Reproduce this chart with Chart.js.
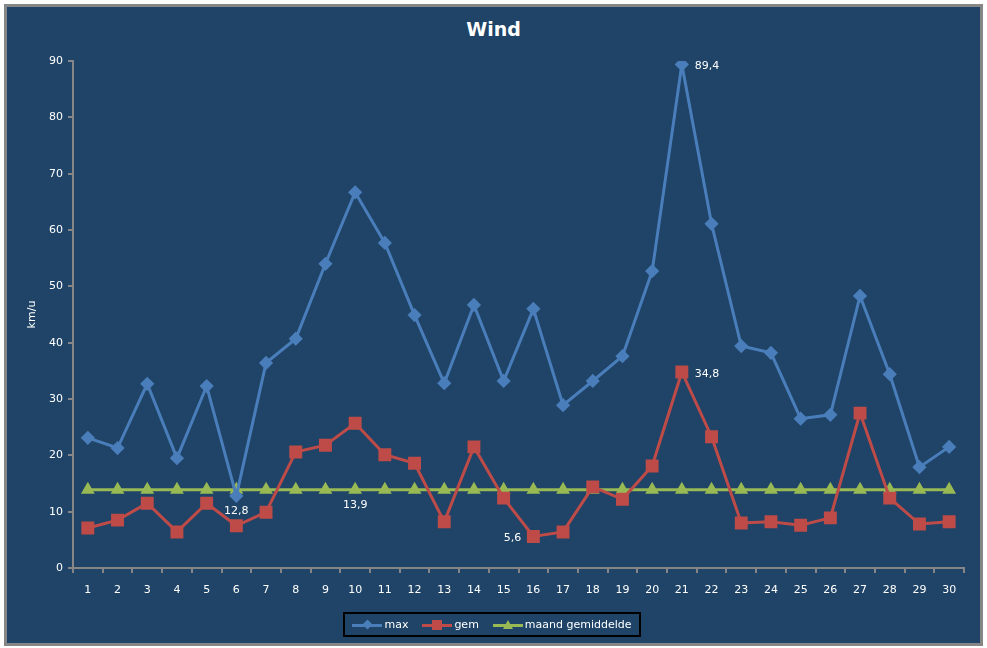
<!DOCTYPE html>
<html>
<head>
<meta charset="utf-8">
<script src="https://cdn.jsdelivr.net/npm/chart.js"></script>
<style>
  body { margin: 0; background: #fff; }
  #wrap { position: relative; width: 987px; height: 648px; overflow: hidden; }
  #frame { position: absolute; left: 4px; top: 4px; width: 973px; height: 636px;
           border: 3px solid #868686; background: #1F4467; }
  #title { position: absolute; left: 0; width: 987px; top: 18px; text-align: center;
           color: #fff; font: bold 19px "DejaVu Sans", sans-serif; }
  canvas { position: absolute; left: 0; top: 0; }
  #legend { position: absolute; left: 343px; top: 612px; width: 298px; height: 25px;
            box-sizing: border-box; border: 2px solid #000; display: flex;
            align-items: center; justify-content: center; color: #fff;
            font: 11px "DejaVu Sans", sans-serif; }
  .item { display: flex; align-items: center; margin: 0 7px; }
  .sym { position: relative; width: 30px; height: 10px; margin-right: 2px; }
  .ln { position: absolute; left: 0; right: 0; top: 4px; height: 3px; }
  .mk { position: absolute; left: 50%; top: 50%; }
</style>
</head>
<body>
<div id="wrap">
  <div id="frame"></div>
  <div id="title">Wind</div>
  <canvas id="myChart" width="987" height="648"></canvas>
  <div id="legend"></div>
</div>

<script>
// Data
const days = ['1','2','3','4','5','6','7','8','9','10','11','12','13','14','15',
              '16','17','18','19','20','21','22','23','24','25','26','27','28','29','30'];
const maxWind = [23.1, 21.3, 32.7, 19.5, 32.3, 12.8, 36.4, 40.7, 54.0, 66.7,
                 57.7, 44.9, 32.8, 46.7, 33.2, 46.0, 28.9, 33.2, 37.6, 52.7,
                 89.4, 61.1, 39.4, 38.2, 26.5, 27.2, 48.3, 34.4, 17.9, 21.5];
const gemWind = [7.1, 8.5, 11.5, 6.4, 11.5, 7.5, 9.9, 20.6, 21.8, 25.7,
                 20.1, 18.6, 8.2, 21.5, 12.4, 5.6, 6.4, 14.4, 12.2, 18.1,
                 34.8, 23.3, 8.0, 8.2, 7.6, 8.9, 27.5, 12.4, 7.8, 8.2];
const maandGem = [13.9, 13.9, 13.9, 13.9, 13.9, 13.9, 13.9, 13.9, 13.9, 13.9,
                  13.9, 13.9, 13.9, 13.9, 13.9, 13.9, 13.9, 13.9, 13.9, 13.9,
                  13.9, 13.9, 13.9, 13.9, 13.9, 13.9, 13.9, 13.9, 13.9, 13.9];
const yTicks = [0, 10, 20, 30, 40, 50, 60, 70, 80, 90];

// which points get a value label: [dataset, index, side]
const valueLabels = [
  [0, 5, 'below'],
  [2, 9, 'below'],
  [1, 15, 'left'],
  [0, 20, 'right'],
  [1, 20, 'right']
];

const FONT = 'DejaVu Sans';
const AXIS = '#868686';

const data = {
  labels: days,
  datasets: [
    { label: 'max', data: maxWind, borderColor: '#4A7EBB', backgroundColor: '#4A7EBB',
      borderWidth: 3, pointStyle: 'rectRot', pointRadius: 5, mk: 'diamond' },
    { label: 'gem', data: gemWind, borderColor: '#BE4B48', backgroundColor: '#BE4B48',
      borderWidth: 3, pointStyle: 'rect', pointRadius: 7, mk: 'square' },
    { label: 'maand gemiddelde', data: maandGem, borderColor: '#98B954', backgroundColor: '#98B954',
      borderWidth: 3, pointStyle: 'triangle', pointRadius: 5, mk: 'triangle' }
  ]
};

// labels next to some points
const labelPlugin = {
  id: 'valueLabels',
  afterDatasetsDraw(chart) {
    const ctx = chart.ctx;
    ctx.save();
    ctx.fillStyle = '#fff';
    ctx.font = '11px ' + FONT;
    ctx.textBaseline = 'middle';
    valueLabels.forEach(([d, i, side]) => {
      const pt = chart.getDatasetMeta(d).data[i];
      const txt = String(chart.data.datasets[d].data[i]).replace('.', ',');
      if (side === 'below') { ctx.textAlign = 'center'; ctx.fillText(txt, pt.x, pt.y + 15); }
      if (side === 'left')  { ctx.textAlign = 'right';  ctx.fillText(txt, pt.x - 12, pt.y + 2); }
      if (side === 'right') { ctx.textAlign = 'left';   ctx.fillText(txt, pt.x + 13, pt.y + 2); }
    });
    ctx.restore();
  }
};

const config = {
  type: 'line',
  data: data,
  options: {
    responsive: false,
    animation: false,
    layout: { padding: { top: 61, right: 23, bottom: 40, left: 0 } },
    elements: { line: { tension: 0 } },
    plugins: { legend: { display: false }, tooltip: { enabled: false } },
    scales: {
      x: {
        offset: true,
        grid: { offset: true, drawOnChartArea: false, drawTicks: true, tickLength: 5, color: AXIS, lineWidth: 2 },
        border: { display: true, color: AXIS, width: 2 },
        ticks: { color: '#fff', font: { family: FONT, size: 11 }, padding: 11, maxRotation: 0, autoSkip: false },
        afterFit(s) { s.height = 40; }
      },
      y: {
        min: 0, max: 90,
        afterBuildTicks(s) { s.ticks = yTicks.map(v => ({ value: v })); },
        grid: { drawOnChartArea: false, drawTicks: true, tickLength: 5, color: AXIS, lineWidth: 2 },
        border: { display: true, color: AXIS, width: 2 },
        ticks: { color: '#fff', font: { family: FONT, size: 11 }, padding: 5 },
        title: { display: true, text: 'km/u', color: '#fff', font: { family: FONT, size: 11 }, padding: { top: 26, bottom: 0 } },
        afterFit(s) { s.width = 73; }
      }
    }
  },
  plugins: [labelPlugin]
};

var myChart = new Chart(document.getElementById('myChart'), config);

// legend
const legend = document.getElementById('legend');
data.datasets.forEach(ds => {
  const c = ds.borderColor;
  let mk;
  if (ds.mk === 'diamond') mk = `<i class="mk" style="width:7px;height:7px;margin:-3.5px 0 0 -3.5px;background:${c};transform:rotate(45deg)"></i>`;
  if (ds.mk === 'square') mk = `<i class="mk" style="width:10px;height:10px;margin:-5px 0 0 -5px;background:${c}"></i>`;
  if (ds.mk === 'triangle') mk = `<i class="mk" style="width:0;height:0;margin:-5px 0 0 -5px;border-left:5px solid transparent;border-right:5px solid transparent;border-bottom:9px solid ${c}"></i>`;
  legend.insertAdjacentHTML('beforeend',
    `<span class="item"><span class="sym"><i class="ln" style="background:${c}"></i>${mk}</span><span>${ds.label}</span></span>`);
});
</script>
</body>
</html>
